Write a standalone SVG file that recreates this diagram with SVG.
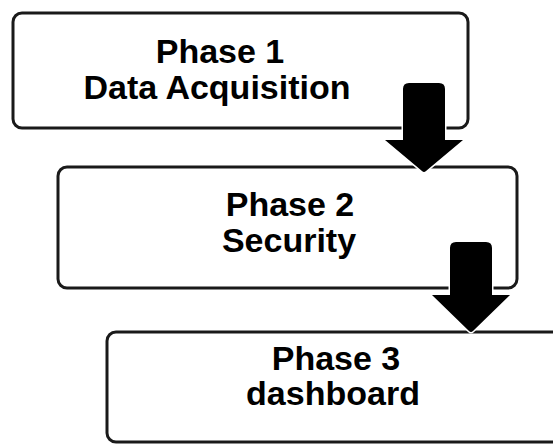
<svg xmlns="http://www.w3.org/2000/svg" width="553" height="444" viewBox="0 0 553 444">
<style>
.box{fill:#fff;stroke:#1a1a1a;stroke-width:3}
.lbl{font-family:"Liberation Sans",Arial,sans-serif;font-weight:bold;font-size:34px;fill:#000;text-anchor:middle}
.arr{fill:#000;stroke:#fff;stroke-width:3;paint-order:stroke;stroke-linejoin:round}
</style>
<rect width="553" height="444" fill="#fff"/>
<g id="phase1">
<rect class="box" x="13" y="13" width="455" height="115" rx="9"/>
<text class="lbl" x="220" y="63">Phase 1</text>
<text class="lbl" x="217" y="99">Data Acquisition</text>
</g>
<g id="phase2">
<rect class="box" x="58" y="167" width="459" height="121" rx="9"/>
<text class="lbl" x="290" y="216">Phase 2</text>
<text class="lbl" x="289" y="252">Security</text>
</g>
<g id="phase3">
<rect class="box" x="107" y="332" width="460" height="110" rx="9"/>
<text class="lbl" x="336" y="370">Phase 3</text>
<text class="lbl" x="333" y="405">dashboard</text>
</g>
<g id="connectors">
<path class="arr" d="M403 140 V89 Q403 83 409 83 H439 Q445 83 445 89 V140 H463 L426 171 Q424 173 422 171 L385 140 Z"/>
<path class="arr" d="M450 295 V248 Q450 242 456 242 H486 Q492 242 492 248 V295 H510 L473 331 Q471 333 469 331 L432 295 Z"/>
</g>
</svg>
